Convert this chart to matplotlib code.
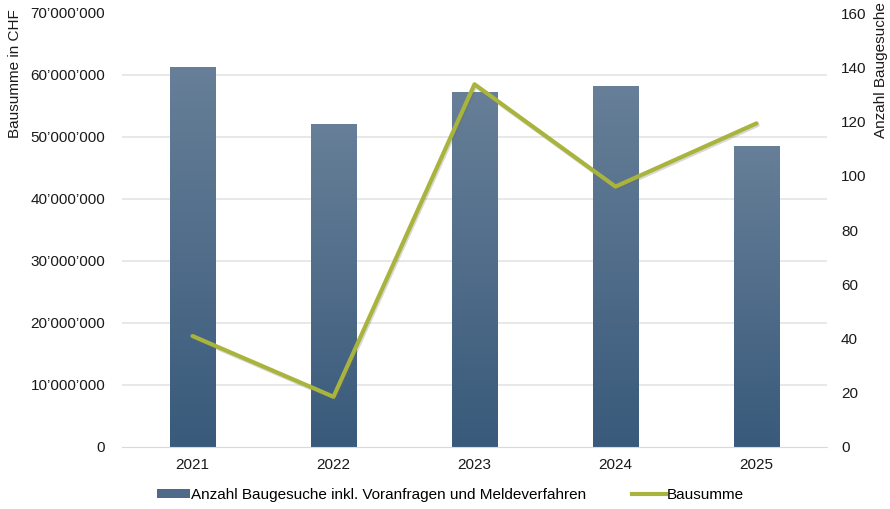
import numpy as np
import matplotlib
matplotlib.use("Agg")
import matplotlib.pyplot as plt
import matplotlib.patheffects as pe
from matplotlib.patches import Patch
from matplotlib.lines import Line2D
from matplotlib.ticker import FuncFormatter
from matplotlib.colors import LinearSegmentedColormap

plt.rcParams['font.family'] = ['Liberation Sans', 'DejaVu Sans']

# === DATA ===
years = ["2021", "2022", "2023", "2024", "2025"]
baugesuche = [140, 119, 131, 133, 111]
bausumme = [17.9e6, 8.1e6, 58.5e6, 42.0e6, 52.2e6]

BAR_TOP = "#677f98"
BAR_BOTTOM = "#395a7b"
LINE_COLOR = "#a9b43c"
GRID_COLOR = "#e4e4e4"
TEXT_COLOR = "#1a1a1a"
FS = 11

fig = plt.figure(figsize=(8.9, 5.09), dpi=100)
ax = fig.add_axes([122 / 890, 62 / 509, 705 / 890, 434 / 509])
ax2 = ax.twinx()

x = np.arange(len(years))

# bars on the right axis, drawn underneath
ax2.set_ylim(0, 160)
ax2.set_yticks(np.arange(0, 161, 20))
# gridlines follow the left axis ticks (every 10 Mio)
ax2.set_yticks(np.arange(8) * 160 / 7, minor=True)
ax2.grid(axis="y", which="minor", color=GRID_COLOR, linewidth=1.2)
ax2.grid(axis="y", which="major", visible=False)
ax2.set_axisbelow(True)
cmap = LinearSegmentedColormap.from_list("bar", [BAR_BOTTOM, BAR_TOP])
grad = np.linspace(0, 1, 256).reshape(-1, 1)
bars = ax2.bar(x, baugesuche, width=0.32, color=BAR_BOTTOM, zorder=2)
for b in bars:
    x0, w, h = b.get_x(), b.get_width(), b.get_height()
    im = ax2.imshow(grad, cmap=cmap, extent=(x0, x0 + w, 0, h), origin="lower",
                    aspect="auto", zorder=3)
    im.set_clip_path(b)
ax2.set_xlim(-0.5, len(years) - 0.5)
ax2.set_ylim(0, 160)

# line on the left axis, on top
ax.set_zorder(ax2.get_zorder() + 1)
ax.patch.set_visible(False)
ax.plot(x, bausumme, color=LINE_COLOR, linewidth=3, solid_capstyle="round",
        path_effects=[pe.SimpleLineShadow(offset=(0.8, -1.2), shadow_color="#666666", alpha=0.25), pe.Normal()])
ax.set_ylim(0, 70e6)
ax.set_yticks(np.arange(0, 70e6 + 1, 10e6))
ax.yaxis.set_major_formatter(FuncFormatter(lambda v, p: f"{int(v):,}".replace(",", "\u2019")))
ax.set_xlim(-0.5, len(years) - 0.5)
ax.set_xticks(x)
ax.set_xticklabels(years)

for a in (ax, ax2):
    for s in a.spines.values():
        s.set_visible(False)
    a.tick_params(which="both", length=0, labelsize=FS, colors=TEXT_COLOR)
ax.tick_params(axis="y", pad=12)
ax2.tick_params(axis="y", pad=10)
ax.tick_params(axis="x", pad=8)
ax.spines["bottom"].set_visible(True)
ax.spines["bottom"].set_color("#d9d9d9")

# axis titles sit at the top edge, as in the original
fig.text(15 / 890, 1 - 9 / 509, "Bausumme in CHF", rotation=90, ha="center", va="top",
         fontsize=FS, color=TEXT_COLOR)
fig.text(881 / 890, 1 - 2 / 509, "Anzahl Baugesuche", rotation=90, ha="center", va="top",
         fontsize=FS, color=TEXT_COLOR)

handles = [Patch(facecolor="#4e6a88", edgecolor="none"),
           Line2D([0], [0], color=LINE_COLOR, linewidth=3)]
labels = ["Anzahl Baugesuche inkl. Voranfragen und Meldeverfahren", "Bausumme"]
fig.legend(handles, labels, loc="center", bbox_to_anchor=(450 / 890, 1 - 495 / 509),
           ncol=2, frameon=False, fontsize=FS, handlelength=2.2, handleheight=0.5,
           handletextpad=0.05, columnspacing=3.0)

fig.savefig("out.png", dpi=100)
